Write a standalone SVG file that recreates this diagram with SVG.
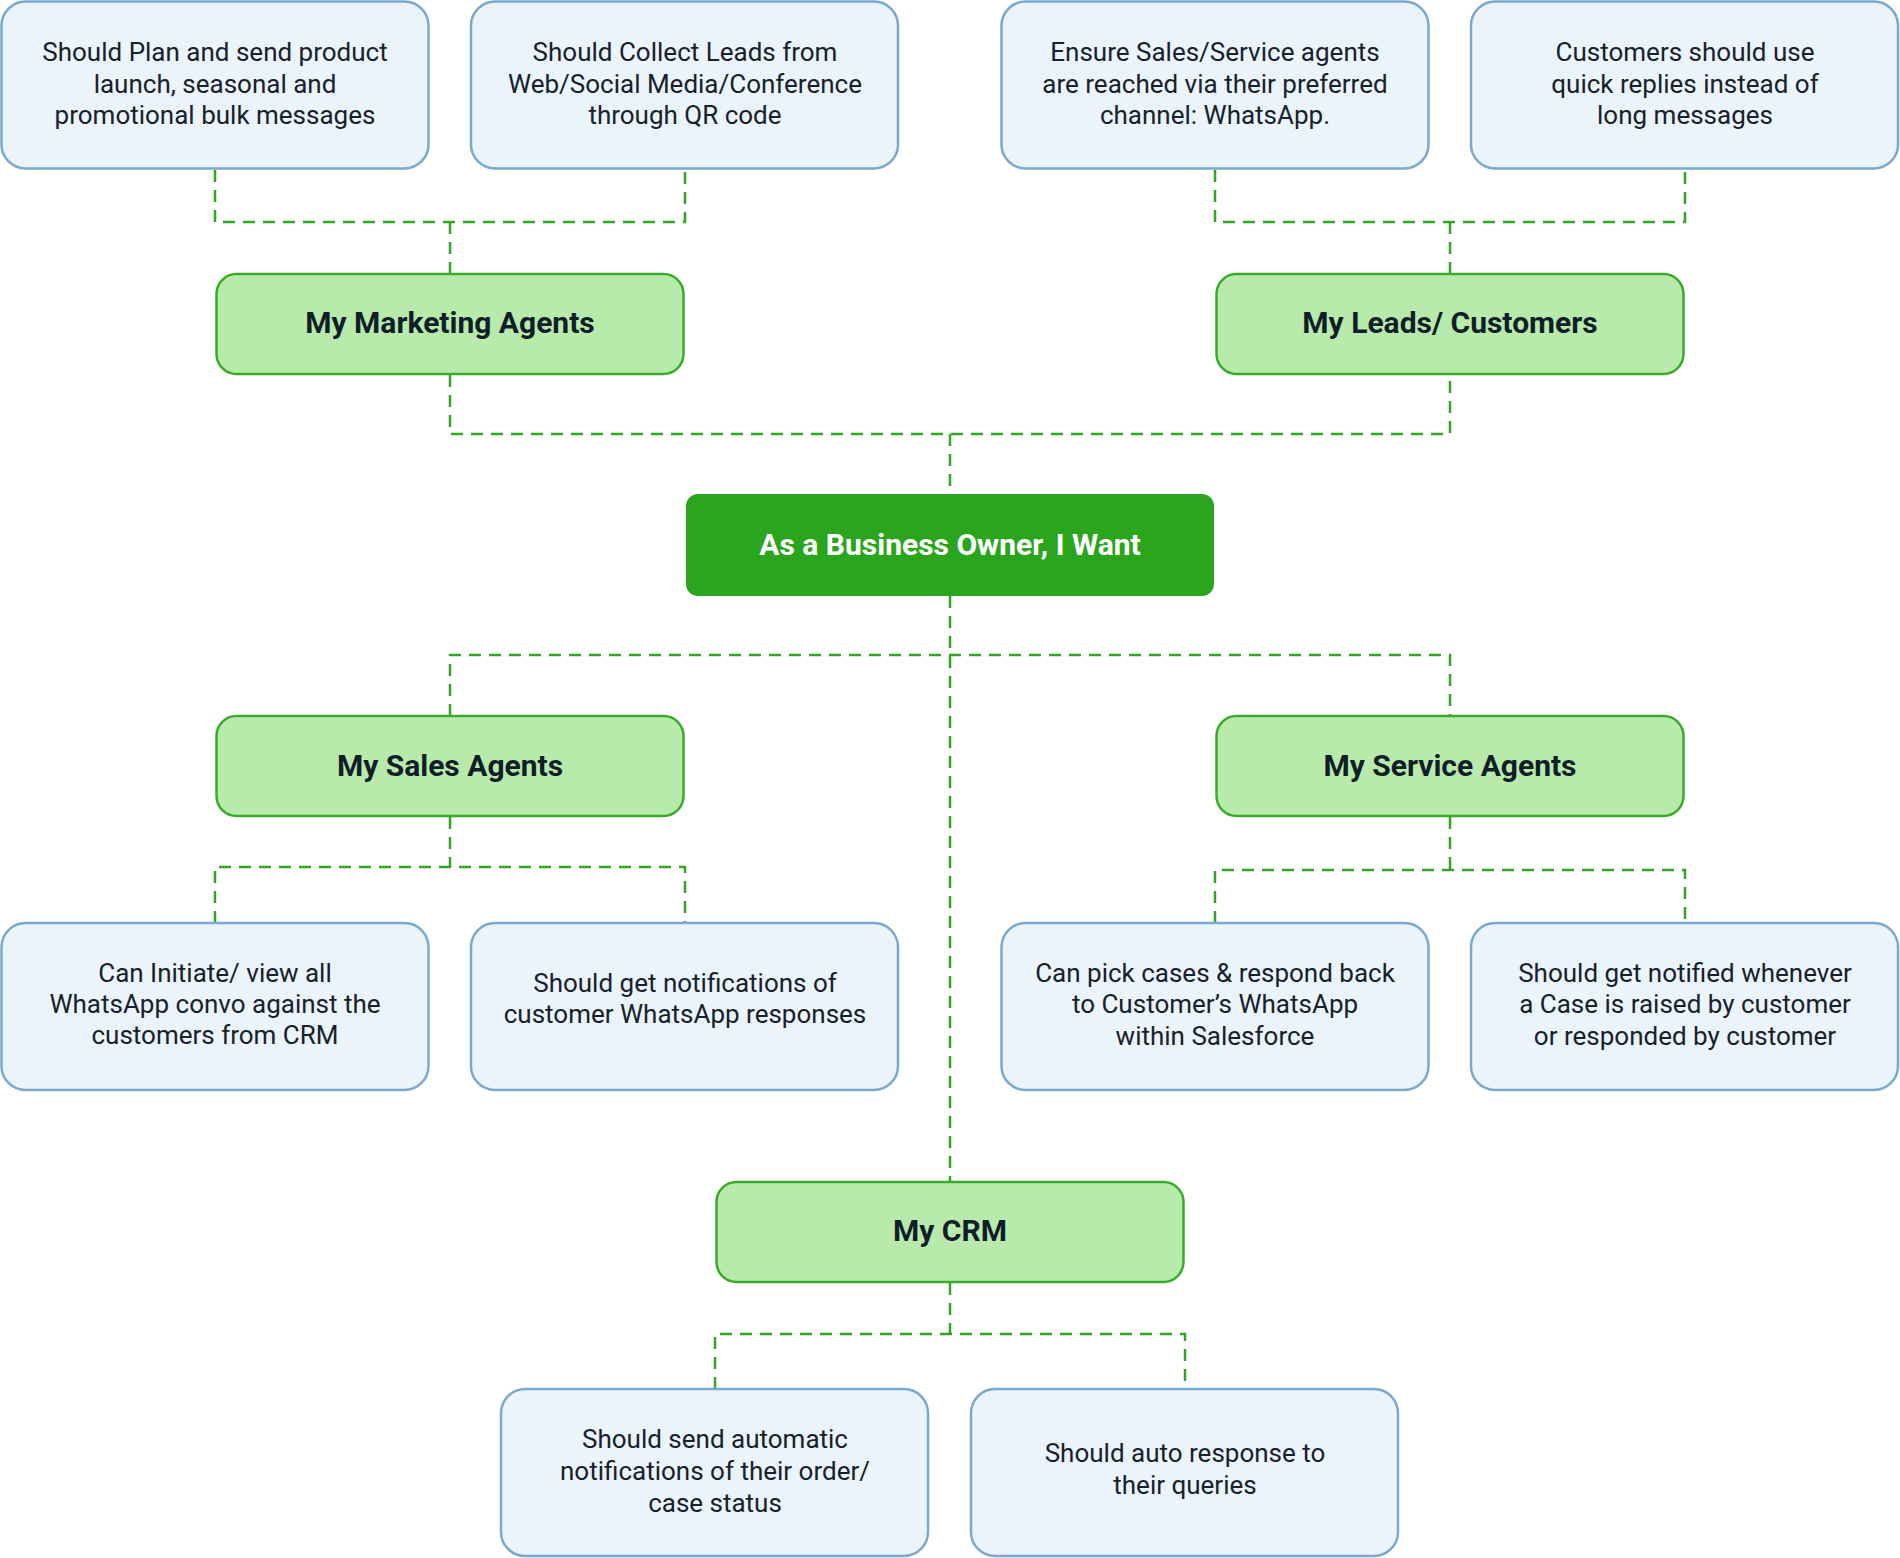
<svg xmlns="http://www.w3.org/2000/svg" width="1900" height="1558" viewBox="0 0 1900 1558">
<style>
.req rect{fill:#ebf3fb;stroke:#7aa9cf;stroke-width:2.5}
.req text{font-family:Roboto,"Liberation Sans",sans-serif;font-size:26px;fill:#17212b;text-anchor:middle}
.role rect{fill:#b8ebab;stroke:#3aab2b;stroke-width:2.5}
.role text{font-family:Roboto,"Liberation Sans",sans-serif;font-size:30px;font-weight:700;fill:#0f1e29;text-anchor:middle}
.owner rect{fill:#2ca51e}
.owner text{font-family:Roboto,"Liberation Sans",sans-serif;font-size:30px;font-weight:700;fill:#ffffff;text-anchor:middle}
.conn path{fill:none;stroke:#33a524;stroke-width:2.5;stroke-dasharray:12 8}
</style>
<rect width="1900" height="1558" fill="#ffffff"/>
<g id="connectors" class="conn">
<path d="M215 170V222H685V170"/>
<path d="M450 222V274"/>
<path d="M1215 170V222H1685V170"/>
<path d="M1450 222V274"/>
<path d="M450 375V434H1450V375"/>
<path d="M950 434V494"/>
<path d="M950 596V1182"/>
<path d="M450 716V655H1450V716"/>
<path d="M450 817V867"/>
<path d="M215 923V867H685V923"/>
<path d="M1450 817V870"/>
<path d="M1215 923V870H1685V923"/>
<path d="M950 1283V1334"/>
<path d="M715 1389V1334H1185V1389"/>
</g>
<g id="n-plan" class="req">
<rect x="1.5" y="1.5" width="427" height="167" rx="24"/>
<text x="215"><tspan x="215" y="61">Should Plan and send product</tspan><tspan x="215" y="92.5">launch, seasonal and</tspan><tspan x="215" y="124">promotional bulk messages</tspan></text>
</g>
<g id="n-leads" class="req">
<rect x="471" y="1.5" width="427" height="167" rx="24"/>
<text x="685"><tspan x="685" y="61">Should Collect Leads from</tspan><tspan x="685" y="92.5">Web/Social Media/Conference</tspan><tspan x="685" y="124">through QR code</tspan></text>
</g>
<g id="n-ensure" class="req">
<rect x="1001.5" y="1.5" width="427" height="167" rx="24"/>
<text x="1215"><tspan x="1215" y="61">Ensure Sales/Service agents</tspan><tspan x="1215" y="92.5">are reached via their preferred</tspan><tspan x="1215" y="124">channel: WhatsApp.</tspan></text>
</g>
<g id="n-quick" class="req">
<rect x="1471" y="1.5" width="427" height="167" rx="24"/>
<text x="1685"><tspan x="1685" y="61">Customers should use</tspan><tspan x="1685" y="92.5">quick replies instead of</tspan><tspan x="1685" y="124">long messages</tspan></text>
</g>
<g id="n-marketing" class="role">
<rect x="216.5" y="274" width="467" height="100" rx="20"/>
<text x="450" y="333">My Marketing Agents</text>
</g>
<g id="n-customers" class="role">
<rect x="1216.5" y="274" width="467" height="100" rx="20"/>
<text x="1450" y="333">My Leads/ Customers</text>
</g>
<g id="n-owner" class="owner">
<rect x="686" y="494" width="528" height="102" rx="12"/>
<text x="950" y="555">As a Business Owner, I Want</text>
</g>
<g id="n-sales" class="role">
<rect x="216.5" y="716" width="467" height="100" rx="20"/>
<text x="450" y="775.5">My Sales Agents</text>
</g>
<g id="n-service" class="role">
<rect x="1216.5" y="716" width="467" height="100" rx="20"/>
<text x="1450" y="775.5">My Service Agents</text>
</g>
<g id="n-initiate" class="req">
<rect x="1.5" y="923" width="427" height="167" rx="24"/>
<text x="215"><tspan x="215" y="981.5">Can Initiate/ view all</tspan><tspan x="215" y="1012.5">WhatsApp convo against the</tspan><tspan x="215" y="1044">customers from CRM</tspan></text>
</g>
<g id="n-notif" class="req">
<rect x="471" y="923" width="427" height="167" rx="24"/>
<text x="685"><tspan x="685" y="991.5">Should get notifications of</tspan><tspan x="685" y="1023">customer WhatsApp responses</tspan></text>
</g>
<g id="n-pick" class="req">
<rect x="1001.5" y="923" width="427" height="167" rx="24"/>
<text x="1215"><tspan x="1215" y="981.5">Can pick cases &amp; respond back</tspan><tspan x="1215" y="1013">to Customer’s WhatsApp</tspan><tspan x="1215" y="1044.5">within Salesforce</tspan></text>
</g>
<g id="n-notified" class="req">
<rect x="1471" y="923" width="427" height="167" rx="24"/>
<text x="1685"><tspan x="1685" y="981.5">Should get notified whenever</tspan><tspan x="1685" y="1013">a Case is raised by customer</tspan><tspan x="1685" y="1044.5">or responded by customer</tspan></text>
</g>
<g id="n-crm" class="role">
<rect x="716.5" y="1182" width="467" height="100" rx="20"/>
<text x="950" y="1240.5">My CRM</text>
</g>
<g id="n-auto" class="req">
<rect x="501" y="1389" width="427" height="167" rx="24"/>
<text x="715"><tspan x="715" y="1448">Should send automatic</tspan><tspan x="715" y="1480">notifications of their order/</tspan><tspan x="715" y="1511.5">case status</tspan></text>
</g>
<g id="n-autoresp" class="req">
<rect x="971" y="1389" width="427" height="167" rx="24"/>
<text x="1185"><tspan x="1185" y="1462">Should auto response to</tspan><tspan x="1185" y="1493.5">their queries</tspan></text>
</g>
</svg>
